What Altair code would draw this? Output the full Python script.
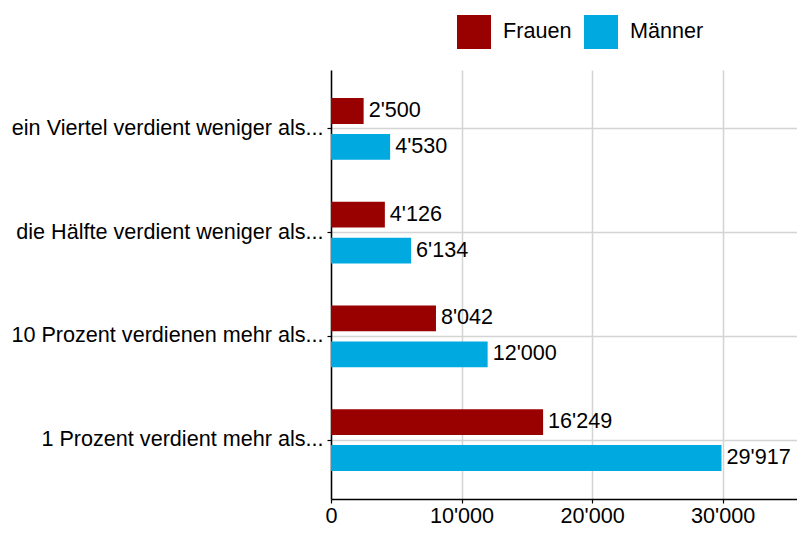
import altair as alt
import pandas as pd

categories = [
    "ein Viertel verdient weniger als...",
    "die Hälfte verdient weniger als...",
    "10 Prozent verdienen mehr als...",
    "1 Prozent verdient mehr als...",
]
groups = ["Frauen", "Männer"]
frauen = [2500, 4126, 8042, 16249]
maenner = [4530, 6134, 12000, 29917]
colors = ["#990000", "#00A9E0"]
x_ticks = [0, 10000, 20000, 30000]

rows = []
for c, f, m in zip(categories, frauen, maenner):
    rows.append({"cat": c, "group": "Frauen", "value": f})
    rows.append({"cat": c, "group": "Männer", "value": m})
df = pd.DataFrame(rows)
df["label"] = df["value"].map(lambda v: f"{v:,}".replace(",", "'"))

FONT = "Liberation Sans"
FS = 21.6

y_enc = alt.Y(
    "cat:N",
    sort=categories,
    title=None,
    scale=alt.Scale(paddingInner=0.404, paddingOuter=0.27),
    axis=alt.Axis(
        bandPosition=0.5,
        grid=True,
        gridColor="#d4d4d4",
        gridWidth=1.5,
        domainColor="black",
        domainWidth=1.5,
        tickColor="black",
        tickSize=4,
        tickWidth=1.2,
        labelFont=FONT,
        labelFontSize=FS,
        labelColor="black",
        labelPadding=4,
        labelLimit=400,
    ),
)
yoff_enc = alt.YOffset(
    "group:N", sort=groups, scale=alt.Scale(paddingInner=0.28, paddingOuter=0)
)
x_enc = alt.X(
    "value:Q",
    title=None,
    scale=alt.Scale(domain=[0, 35700], nice=False, zero=True),
    axis=alt.Axis(
        values=x_ticks,
        labelExpr="replace(format(datum.value, ','), ',', \"'\")",
        grid=True,
        gridColor="#d4d4d4",
        gridWidth=1.5,
        domainColor="black",
        domainWidth=1.5,
        tickColor="black",
        tickSize=4,
        tickWidth=1.2,
        labelFont=FONT,
        labelFontSize=FS,
        labelColor="black",
        labelPadding=2,
        labelFlush=False,
    ),
)

bars = alt.Chart(df).mark_bar().encode(
    x=x_enc,
    y=y_enc,
    yOffset=yoff_enc,
    color=alt.Color(
        "group:N",
        scale=alt.Scale(domain=groups, range=colors),
        legend=alt.Legend(
            title=None,
            orient="none",
            legendX=126,
            legendY=-55,
            direction="horizontal",
            symbolType="square",
            symbolSize=1156,
            symbolStrokeWidth=0,
            symbolOpacity=1,
            labelFont=FONT,
            labelFontSize=FS,
            labelColor="black",
            labelOffset=12,
            columnPadding=12,
        ),
    ),
)

texts = alt.Chart(df).mark_text(
    align="left", baseline="middle", dx=5, font=FONT, fontSize=FS, color="black"
).encode(
    x=alt.X("value:Q"),
    y=alt.Y("cat:N", sort=categories),
    yOffset=alt.YOffset("group:N", sort=groups),
    text="label:N",
)

chart = (
    alt.layer(bars, texts)
    .properties(
        width=466,
        height=429,
        padding={"left": 323, "top": 62, "right": 0, "bottom": 28},
        autosize=alt.AutoSizeParams(type="none"),
    )
    .configure_view(stroke=None)
)

chart.save("out.html", embed_options={"renderer": "svg", "actions": False})
